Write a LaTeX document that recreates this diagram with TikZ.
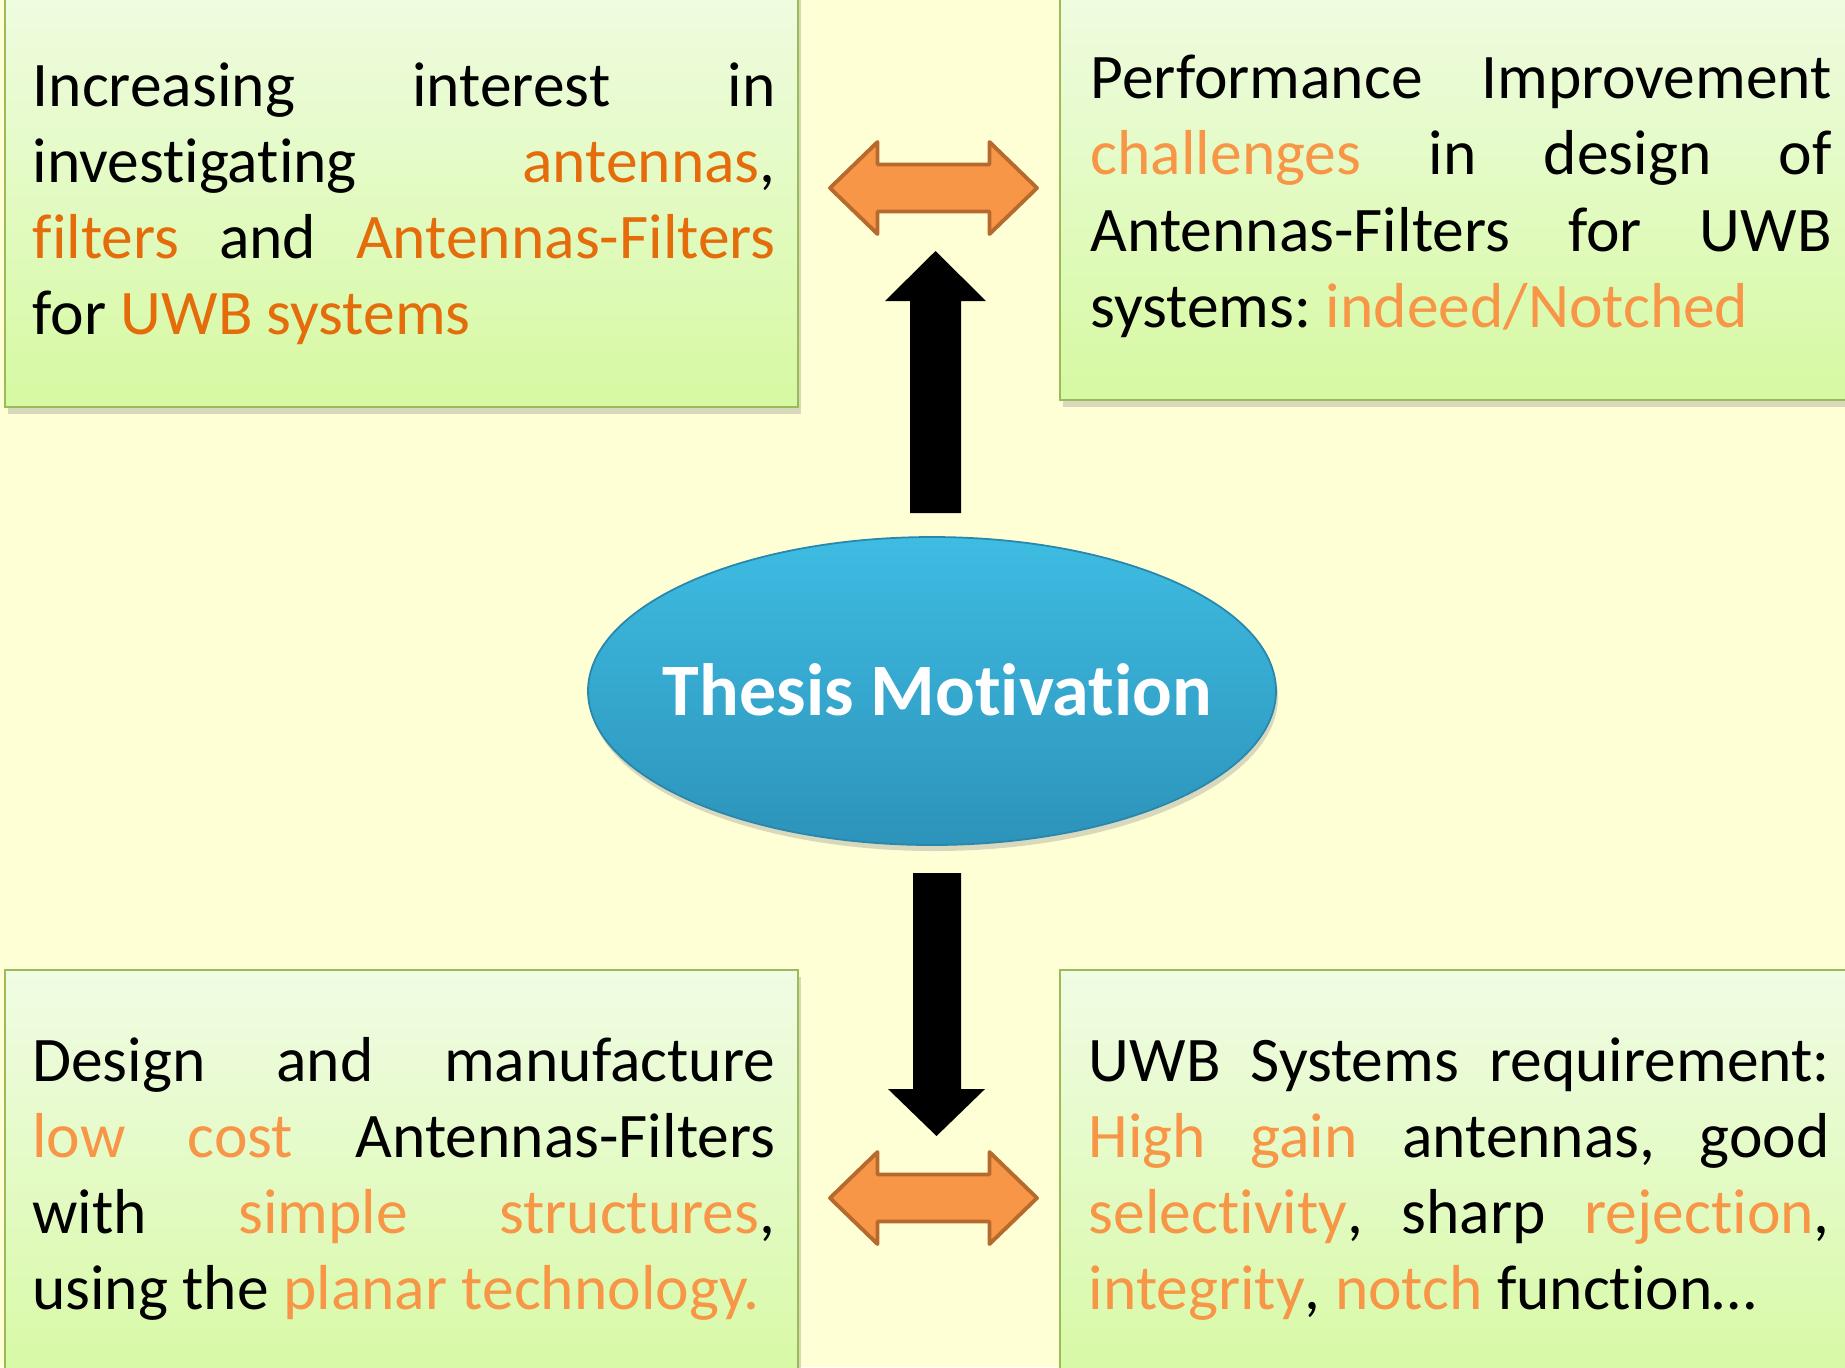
\documentclass[tikz,border=0pt]{standalone}
\usepackage{fontspec}
\setmainfont{Carlito}[Ligatures=NoCommon]
\usetikzlibrary{shapes.geometric,shadows}

\definecolor{paper}{RGB}{255,255,214}
\definecolor{boxtop}{RGB}{240,252,228}
\definecolor{boxbottom}{RGB}{214,249,162}
\definecolor{boxline}{RGB}{155,187,89}
\definecolor{darkorange}{RGB}{228,108,10}
\definecolor{lightorange}{RGB}{247,150,70}
\definecolor{arrowline}{RGB}{182,106,46}
\definecolor{skytop}{RGB}{62,188,226}
\definecolor{skybottom}{RGB}{45,147,186}
\definecolor{skyline}{RGB}{40,135,172}

% justified lines, never hyphenated
\frenchspacing
\tolerance=10000
\hbadness=10000
\hyphenpenalty=10000
\exhyphenpenalty=10000

\newcommand{\darkword}[1]{\textcolor{darkorange}{#1}}
\newcommand{\lightword}[1]{\textcolor{lightorange}{#1}}

\tikzset{
  infobox/.style={draw=boxline,line width=0.6pt,top color=boxtop,bottom color=boxbottom,
    drop shadow={shadow xshift=0.03cm,shadow yshift=-0.07cm,opacity=0.3}},
  boxtext/.style={anchor=base west,inner sep=0pt,text width=7.41cm,align=justify,
    font=\fontsize{18.07pt}{21.71pt}\selectfont},
  motive/.style={ellipse,draw=skyline,line width=0.5pt,top color=skytop,bottom color=skybottom,
    drop shadow={shadow xshift=0.02cm,shadow yshift=-0.06cm,opacity=0.3}},
  swaparrow/.style={fill=lightorange,draw=arrowline,line width=1.1pt,line join=round},
}

\begin{document}
\begin{tikzpicture}

%====================================================
% Page
%====================================================
\clip (0,0) rectangle (18.45,-13.67);
\fill[paper] (0,0) rectangle (18.45,-13.67);

%====================================================
% Boxes
%====================================================
\draw[infobox] (0.05,0.3) rectangle (7.98,-4.07);
\draw[infobox] (10.60,0.3) rectangle (18.8,-4.00);
\draw[infobox] (0.05,-9.70) rectangle (7.98,-14.0);
\draw[infobox] (10.60,-9.70) rectangle (18.8,-14.0);

% Box texts
\node[boxtext,text width=7.43cm] (interest) at (0.32,-1.06)
{Increasing interest in\linebreak
 investigating \darkword{antennas},\linebreak
 \darkword{filters} and \darkword{Antennas-Filters}\linebreak
 for \darkword{UWB systems}};

\node[boxtext] (challenge) at (10.90,-0.985)
{Performance Improvement\linebreak
 \lightword{challenges} in design of\linebreak
 Antennas-Filters for UWB\linebreak
 systems: \lightword{indeed/Notched}};

\node[boxtext,text width=7.43cm] (design) at (0.315,-10.81)
{Design and manufacture\linebreak
 \lightword{low cost} Antennas-Filters\linebreak
 with \lightword{simple structures},\linebreak
 using the \lightword{planar technology.}};

\node[boxtext] (require) at (10.88,-10.81)
{UWB Systems requirement:\linebreak
 \lightword{High gain} antennas, good\linebreak
 \lightword{selectivity}, sharp \lightword{rejection},\linebreak
 \lightword{integrity}, \lightword{notch} function…};

%====================================================
% Centre ellipse
%====================================================
\node[motive,minimum width=6.88cm,minimum height=3.08cm,inner sep=0pt] (motivation) at (9.32,-6.91) {};
\node[anchor=base,inner sep=0pt,text=white,font=\fontsize{21.06pt}{25pt}\selectfont\bfseries]
  (title) at (9.375,-7.15) {Thesis Motivation};

%====================================================
% Arrows
%====================================================
% Up arrow
\fill (9.355,-2.51) -- (9.86,-3.01) -- (9.61,-3.01) -- (9.61,-5.13)
  -- (9.10,-5.13) -- (9.10,-3.01) -- (8.85,-3.01) -- cycle;

% Down arrow
\fill (9.365,-11.36) -- (9.85,-10.89) -- (9.61,-10.89) -- (9.61,-8.73)
  -- (9.13,-8.73) -- (9.13,-10.89) -- (8.88,-10.89) -- cycle;

% Double arrow between the upper boxes
\begin{scope}[shift={(9.335,-1.88)}]
\draw[swaparrow] (-1.035,0) -- (-0.56,0.46) -- (-0.56,0.235) -- (0.56,0.235) -- (0.56,0.46)
  -- (1.035,0) -- (0.56,-0.46) -- (0.56,-0.235) -- (-0.56,-0.235) -- (-0.56,-0.46) -- cycle;
\end{scope}

% Double arrow between the lower boxes
\begin{scope}[shift={(9.335,-11.98)}]
\draw[swaparrow] (-1.035,0) -- (-0.56,0.46) -- (-0.56,0.235) -- (0.56,0.235) -- (0.56,0.46)
  -- (1.035,0) -- (0.56,-0.46) -- (0.56,-0.235) -- (-0.56,-0.235) -- (-0.56,-0.46) -- cycle;
\end{scope}

\end{tikzpicture}
\end{document}
